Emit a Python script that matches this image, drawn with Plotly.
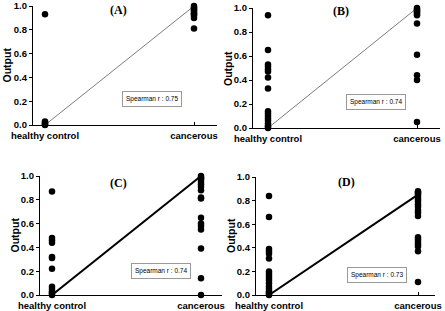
import plotly.graph_objects as go

categories = ["healthy control", "cancerous"]
y_ticks = [0.0, 0.2, 0.4, 0.6, 0.8, 1.0]
y_tick_labels = ["0.0", "0.2", "0.4", "0.6", "0.8", "1.0"]

a_healthy = [0.93, 0.03, 0.02, 0.01, 0.005, 0.0]
a_cancer = [1.0, 0.99, 0.98, 0.97, 0.96, 0.95, 0.94, 0.93, 0.92, 0.90, 0.81]
b_healthy = [0.94, 0.65, 0.53, 0.51, 0.49, 0.47, 0.42, 0.33, 0.14, 0.12, 0.10,
             0.08, 0.06, 0.04, 0.02, 0.01, 0.0]
b_cancer = [1.0, 0.99, 0.98, 0.97, 0.96, 0.95, 0.94, 0.87, 0.61, 0.44, 0.40, 0.05]
c_healthy = [0.87, 0.48, 0.46, 0.44, 0.32, 0.31, 0.22, 0.07, 0.05, 0.03, 0.02, 0.01, 0.0]
c_cancer = [1.0, 0.99, 0.98, 0.97, 0.95, 0.93, 0.91, 0.88, 0.82, 0.81, 0.65, 0.60,
            0.58, 0.55, 0.39, 0.14, 0.0]
d_healthy = [0.84, 0.66, 0.39, 0.37, 0.35, 0.31, 0.20, 0.18, 0.16, 0.14, 0.12,
             0.10, 0.07, 0.05, 0.03, 0.02, 0.01, 0.0]
d_cancer = [0.88, 0.87, 0.86, 0.85, 0.83, 0.81, 0.79, 0.77, 0.75, 0.72, 0.70, 0.67,
            0.49, 0.47, 0.45, 0.43, 0.41, 0.37, 0.11]

trend_a = [0.0, 1.0]
trend_b = [0.0, 1.0]
trend_c = [0.0, 1.0]
trend_d = [0.0, 0.85]

panel_titles = ["(A)", "(B)", "(C)", "(D)"]
spearman = ["Spearman r : 0.75", "Spearman r : 0.74", "Spearman r : 0.74", "Spearman r : 0.73"]

W, H = 445, 311

panels = [
    dict(h=a_healthy, c=a_cancer, t=trend_a, xl=33, xr=217, hx=45, y0=125, y1=6, lw=0.7,
         lc="#444444", tx=118, ty=10, bx=152, by=99, ox=6),
    dict(h=b_healthy, c=b_cancer, t=trend_b, xl=253, xr=440, hx=268, y0=128, y1=8, lw=0.7,
         lc="#444444", tx=341, ty=11, bx=376, by=102, ox=228),
    dict(h=c_healthy, c=c_cancer, t=trend_c, xl=40, xr=222, hx=52, y0=295, y1=176, lw=2,
         lc="black", tx=118, ty=183, bx=161, by=271, ox=14),
    dict(h=d_healthy, c=d_cancer, t=trend_d, xl=256, xr=435, hx=269, y0=295, y1=177, lw=2,
         lc="black", tx=346, ty=182, bx=377, by=275, ox=231),
]

fig = go.Figure()
step = 149.0
annotations = []
for i, p in enumerate(panels):
    n = "" if i == 0 else str(i + 1)
    xa, ya = "x" + n, "y" + n
    fig.add_trace(go.Scatter(x=[0, 1], y=p["t"], mode="lines",
                             line=dict(color=p["lc"], width=p["lw"]),
                             xaxis=xa, yaxis=ya, showlegend=False))
    fig.add_trace(go.Scatter(x=[0] * len(p["h"]), y=p["h"], mode="markers",
                             marker=dict(color="black", size=6.5),
                             xaxis=xa, yaxis=ya, showlegend=False, cliponaxis=False))
    fig.add_trace(go.Scatter(x=[1] * len(p["c"]), y=p["c"], mode="markers",
                             marker=dict(color="black", size=6.5),
                             xaxis=xa, yaxis=ya, showlegend=False, cliponaxis=False))
    left = -(p["hx"] - p["xl"]) / step
    right = 1 + (p["xr"] - p["hx"] - step) / step
    fig.layout["xaxis" + n] = dict(
        domain=[p["xl"] / W, p["xr"] / W], range=[left, right], anchor=ya,
        tickvals=[0, 1], ticktext=["<b>" + c + "</b>" for c in categories],
        showline=True, linecolor="black", automargin=False, ticklabelstandoff=1,
        linewidth=1.3, ticks="inside", ticklen=3, tickcolor="black", showgrid=False,
        zeroline=False, tickfont=dict(family="Arial", size=9.5, color="black"),
        fixedrange=True)
    fig.layout["yaxis" + n] = dict(
        domain=[1 - p["y0"] / H, 1 - p["y1"] / H], range=[0, 1], anchor=xa,
        tickvals=y_ticks, ticktext=["<b>" + t + "</b>" for t in y_tick_labels],
        showline=True, linecolor="black", automargin=False,
        linewidth=1.3, ticks="outside", ticklen=3, tickcolor="black", showgrid=False,
        zeroline=False, tickfont=dict(family="Arial", size=9.5, color="black"),
        fixedrange=True)
    annotations.append(dict(text="<b>" + panel_titles[i] + "</b>", x=p["tx"] / W, y=1 - p["ty"] / H,
                            xref="paper", yref="paper", showarrow=False,
                            xanchor="center", yanchor="middle",
                            font=dict(family="Times New Roman, Liberation Serif", size=12, color="black")))
    annotations.append(dict(text=spearman[i], x=p["bx"] / W, y=1 - p["by"] / H,
                            xref="paper", yref="paper", showarrow=False,
                            xanchor="center", yanchor="middle",
                            font=dict(family="Arial", size=6.5, color="black"),
                            bordercolor="#999999", borderwidth=1, borderpad=3, bgcolor="white"))
    annotations.append(dict(text="<b>Output</b>", x=p["ox"] / W, y=1 - ((p["y0"] + p["y1"]) / 2) / H,
                            xref="paper", yref="paper", showarrow=False, textangle=-90,
                            xanchor="center", yanchor="middle",
                            font=dict(family="Arial", size=10.5, color="black")))

fig.update_layout(width=W, height=H, margin=dict(l=0, r=0, t=0, b=0, autoexpand=False),
                  paper_bgcolor="white", plot_bgcolor="white", annotations=annotations,
                  font=dict(family="Arial", color="black"))

fig.write_html("out.html")
